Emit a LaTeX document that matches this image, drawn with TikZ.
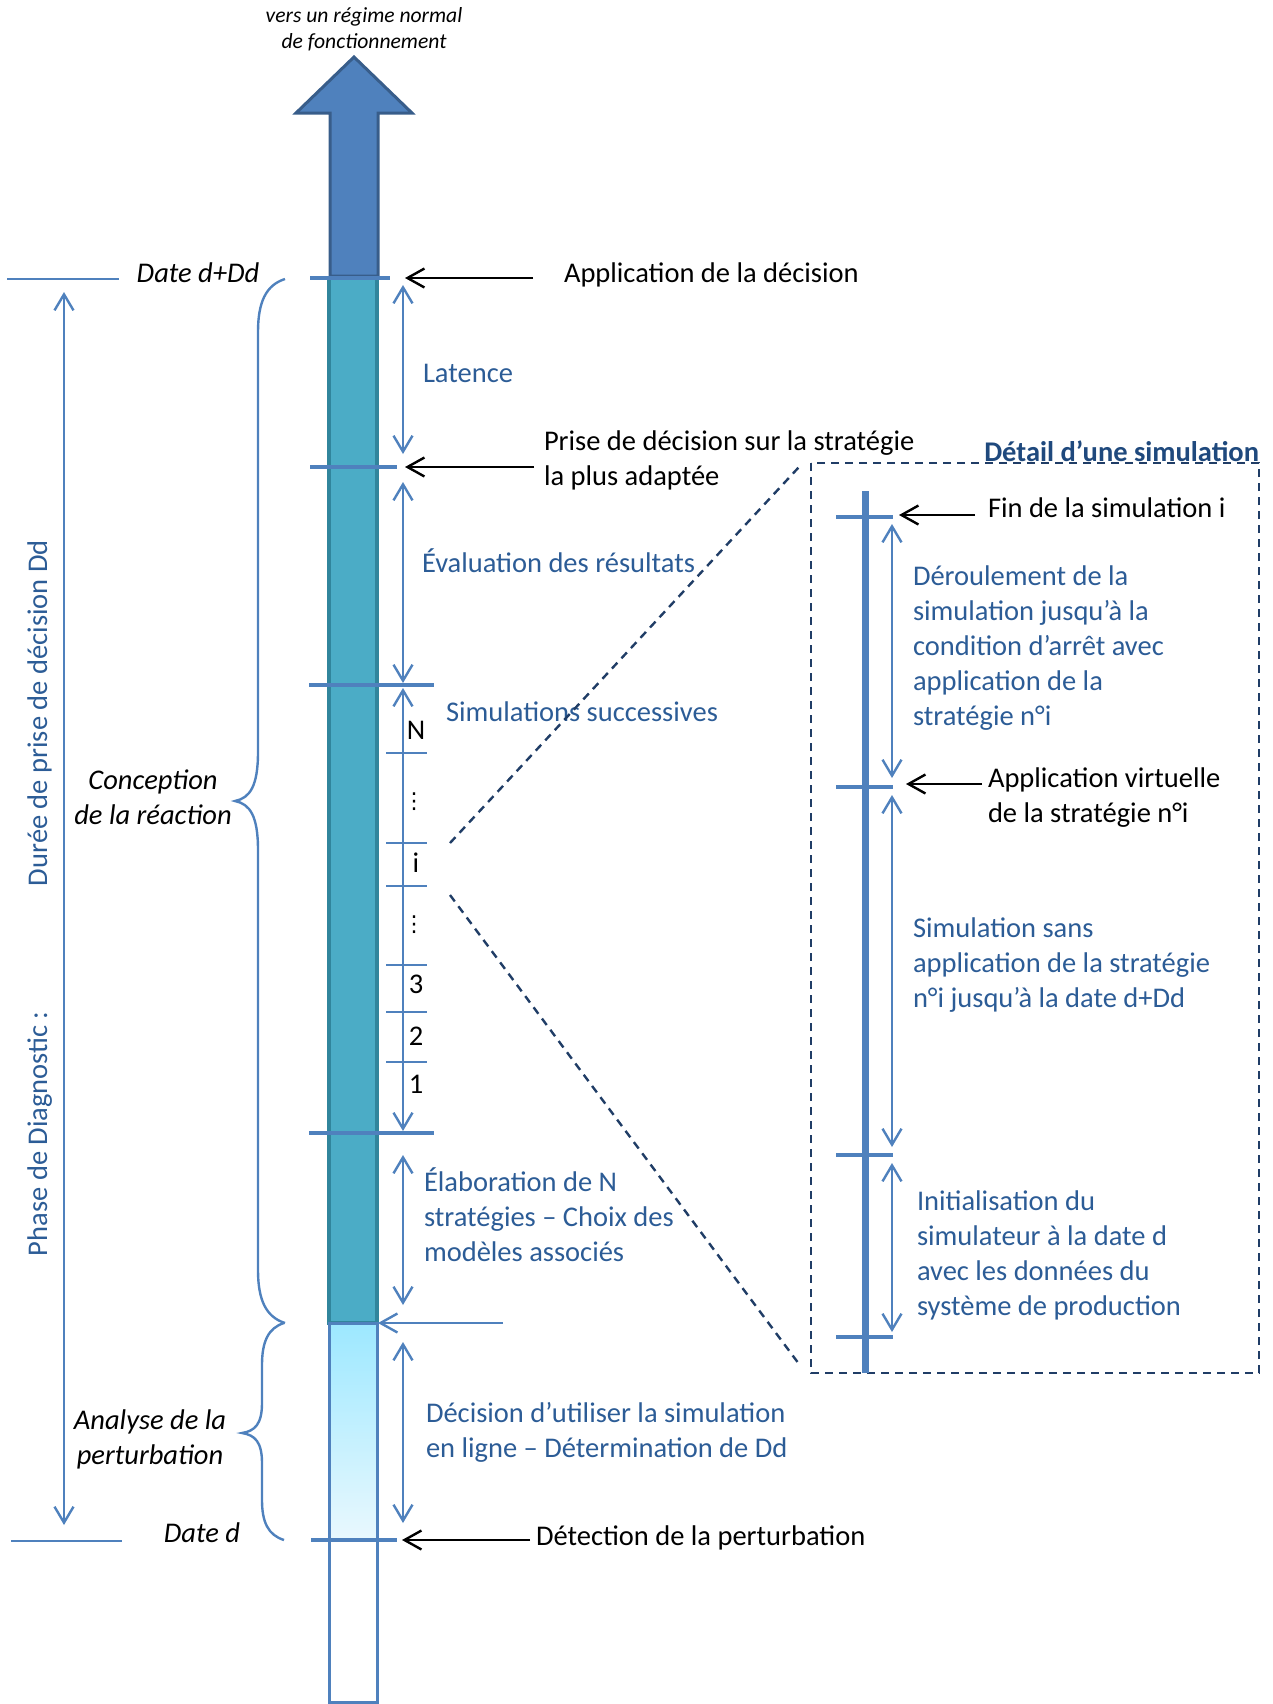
\documentclass[tikz,border=0pt]{standalone}
\usepackage{fontspec}
\setmainfont{Carlito}
\newfontfamily\symfont{DejaVu Sans}
\usetikzlibrary{arrows.meta}

\definecolor{lineblue}{HTML}{4F81BD}
\definecolor{txtblue}{HTML}{2C5C96}
\definecolor{titlenavy}{HTML}{1F497D}
\definecolor{dashnavy}{HTML}{203D66}
\definecolor{barteal}{HTML}{4BACC6}
\definecolor{bartealdark}{HTML}{31859C}
\definecolor{arrowfill}{HTML}{4F81BD}
\definecolor{arrowedge}{HTML}{385D8A}
\definecolor{cyantop}{HTML}{9DE8FF}
\definecolor{cyanbottom}{HTML}{E9F8FE}

% multi-line text blocks whose base anchor is the first baseline
\newcommand\leftlines[1]{\parbox[t]{12cm}{\raggedright #1}}
\newcommand\midlines[2]{\parbox[t]{#1}{\centering #2}}

\tikzset{
  every node/.style={inner sep=0pt, outer sep=0pt},
  mainfont/.style={font=\fontsize{14.25}{17.5}\selectfont},
  bluetxt/.style={mainfont, anchor=base west, text=txtblue},
  blacktxt/.style={mainfont, anchor=base west, text=black},
  italtxt/.style={font=\fontsize{14.25}{17.5}\selectfont\itshape, anchor=base, text=black},
  bartick/.style={draw=lineblue, line width=1.6pt},
  simtick/.style={draw=lineblue, line width=1.3pt},
  span/.style={draw=lineblue, line width=1.2pt,
    {Straight Barb[length=8pt,width=9.5pt]}-{Straight Barb[length=8pt,width=9.5pt]}},
  pointer/.style={draw=black, line width=1.2pt, -{Straight Barb[length=8.5pt,width=9.5pt]}},
  bluepointer/.style={draw=lineblue, line width=1.2pt, -{Straight Barb[length=8.5pt,width=9.5pt]}},
  brace/.style={draw=lineblue, line width=1.2pt},
  guide/.style={draw=dashnavy, line width=1.2pt, dash pattern=on 4pt off 3pt},
}

\begin{document}
\begin{tikzpicture}[x=0.5pt,y=-0.5pt]
\useasboundingbox (0,0) rectangle (1273,1704);

% ---------- heading above the arrow ----------
\node[font=\fontsize{10.8}{13}\selectfont\itshape, anchor=base] (head) at (364,22)
  {\midlines{6cm}{vers un régime normal\\de fonctionnement}};

% ---------- time bar ----------
\draw[fill=arrowfill, draw=arrowedge, line width=1.5pt]
  (330,276) -- (330,113) -- (296,113) -- (354,57) -- (412,113) -- (378,113) -- (378,276) -- cycle;
\draw[fill=barteal, draw=bartealdark, line width=1.8pt] (329,278) rectangle (377,1323);
\shade[top color=cyantop, bottom color=cyanbottom] (329,1323) rectangle (377,1540);
\draw[lineblue, line width=1.5pt] (329,1323) rectangle (377,1540);
\draw[lineblue, line width=1.5pt, fill=white] (329,1540) rectangle (377,1702);

% ---------- date marks ----------
\draw[bartick] (310,278) -- (390,278);
\draw[bartick] (310,467) -- (397,467);
\draw[bartick] (309,685) -- (434,685);
\draw[bartick] (309,1133) -- (434,1133);
\draw[bartick] (311,1540) -- (397,1540);
\draw[lineblue, line width=1.2pt] (7,279) -- (119,279);
\draw[lineblue, line width=1.2pt] (11,1541) -- (122,1541);

% ---------- successive simulations ----------
\foreach \yy in {753,843,886,965,1012,1062}
  \draw[simtick] (386,\yy) -- (427,\yy);
\node[mainfont, anchor=base] (simN) at (416,739) {N};
\node[font=\symfont\fontsize{11}{13}\selectfont, anchor=center] (dotsA) at (414,802) {⋮};
\node[mainfont, anchor=base] (simI) at (416,872) {i};
\node[font=\symfont\fontsize{11}{13}\selectfont, anchor=center] (dotsB) at (414,925) {⋮};
\node[mainfont, anchor=base] (sim3) at (416,993) {3};
\node[mainfont, anchor=base] (sim2) at (416,1045) {2};
\node[mainfont, anchor=base] (sim1) at (416,1093) {1};

% ---------- durations ----------
\coordinate (latA) at (403,285);   \coordinate (latB) at (403,454);
\coordinate (evaA) at (403,482);   \coordinate (evaB) at (403,683);
\coordinate (simA) at (403,688);   \coordinate (simB) at (403,1131);
\coordinate (elaA) at (403,1155);  \coordinate (elaB) at (403,1305);
\coordinate (decA) at (403,1342);  \coordinate (decB) at (403,1523);
\coordinate (durA) at (64,292);    \coordinate (durB) at (64,1525);
\draw[span] (latA) -- (latB);
\draw[span] (evaA) -- (evaB);
\draw[span] (simA) -- (simB);
\draw[span] (elaA) -- (elaB);
\draw[span] (decA) -- (decB);
\draw[span] (durA) -- (durB);

\node[bluetxt] (latence) at (423,382) {Latence};
\node[bluetxt] (evaluation) at (422,572) {Évaluation des résultats};
\node[bluetxt] (successives) at (446,721) {Simulations successives};
\node[bluetxt] (elaboration) at (424,1191)
  {\leftlines{Élaboration de N\\stratégies – Choix des\\modèles associés}};
\node[bluetxt] (decision) at (426,1422)
  {\leftlines{Décision d’utiliser la simulation\\en ligne – Détermination de Dd}};

% ---------- events ----------
\coordinate (appS) at (533,278);  \coordinate (appE) at (405,278);
\coordinate (priS) at (534,467);  \coordinate (priE) at (405,467);
\coordinate (detS) at (530,1540); \coordinate (detE) at (402,1540);
\coordinate (anaS) at (503,1323); \coordinate (anaE) at (378,1323);
\draw[pointer] (appS) -- (appE);
\draw[pointer] (priS) -- (priE);
\draw[pointer] (detS) -- (detE);
\draw[bluepointer] (anaS) -- (anaE);

\node[blacktxt] (application) at (564,282) {Application de la décision};
\node[blacktxt] (prise) at (544,450)
  {\leftlines{Prise de décision sur la stratégie\\la plus adaptée}};
\node[blacktxt] (detection) at (536,1545) {Détection de la perturbation};

% ---------- phases on the left ----------
\node[italtxt] (dateDd) at (198,282) {Date d+Dd};
\node[italtxt] (dated) at (202,1542) {Date d};
\node[italtxt] (conception) at (153,789)
  {\midlines{5cm}{Conception\\de la réaction}};
\node[italtxt] (analyse) at (150,1429)
  {\midlines{5cm}{Analyse de la\\perturbation}};

\draw[brace] (285,279) .. controls (266,285) and (258,302) .. (258,332)
  -- (258,752) .. controls (258,786) and (250,798) .. (235,801)
  .. controls (250,804) and (258,816) .. (258,850)
  -- (258,1270) .. controls (258,1300) and (266,1317) .. (285,1323);
\draw[brace] (284,1323) .. controls (268,1328) and (262,1342) .. (262,1365)
  -- (262,1403) .. controls (262,1424) and (255,1431) .. (242,1433)
  .. controls (255,1435) and (262,1442) .. (262,1463)
  -- (262,1500) .. controls (262,1522) and (268,1535) .. (284,1540);

\node[bluetxt, rotate=90] (duree) at (47,886) {Durée de prise de décision Dd};
\node[bluetxt, rotate=90] (phase) at (47,1256) {Phase de Diagnostic :};

% ---------- zoom on one simulation ----------
\coordinate (zoomA) at (450,843);  \coordinate (zoomB) at (799,467);
\coordinate (zoomC) at (450,895);  \coordinate (zoomD) at (799,1364);
\draw[guide] (zoomA) -- (zoomB);
\draw[guide] (zoomC) -- (zoomD);
\draw[guide] (811,463) rectangle (1259,1373);
\node[font=\fontsize{14.25}{17.5}\selectfont\bfseries, text=titlenavy, anchor=base east]
  (detail) at (1259,461) {Détail d’une simulation};

\draw[lineblue, line width=3.5pt] (865,491) -- (865,1373);
\foreach \yy in {517,787,1155,1337}
  \draw[bartick] (836,\yy) -- (893,\yy);

\coordinate (runA) at (892,524);   \coordinate (runB) at (892,778);
\coordinate (freeA) at (892,795);  \coordinate (freeB) at (892,1147);
\coordinate (initA) at (892,1163); \coordinate (initB) at (892,1332);
\draw[span] (runA) -- (runB);
\draw[span] (freeA) -- (freeB);
\draw[span] (initA) -- (initB);

\coordinate (finS) at (975,515);  \coordinate (finE) at (899,515);
\coordinate (virS) at (982,784);  \coordinate (virE) at (906,784);
\draw[pointer] (finS) -- (finE);
\draw[pointer] (virS) -- (virE);

\node[blacktxt] (fin) at (988,517) {Fin de la simulation i};
\node[blacktxt] (virtuelle) at (988,787)
  {\leftlines{Application virtuelle\\de la stratégie n°i}};
\node[bluetxt] (deroulement) at (913,585)
  {\leftlines{Déroulement de la\\simulation jusqu’à la\\condition d’arrêt avec\\application de la\\stratégie n°i}};
\node[bluetxt] (sans) at (913,937)
  {\leftlines{Simulation sans\\application de la stratégie\\n°i jusqu’à la date d+Dd}};
\node[bluetxt] (initialisation) at (917,1210)
  {\leftlines{Initialisation du\\simulateur à la date d\\avec les données du\\système de production}};
\end{tikzpicture}
\end{document}
